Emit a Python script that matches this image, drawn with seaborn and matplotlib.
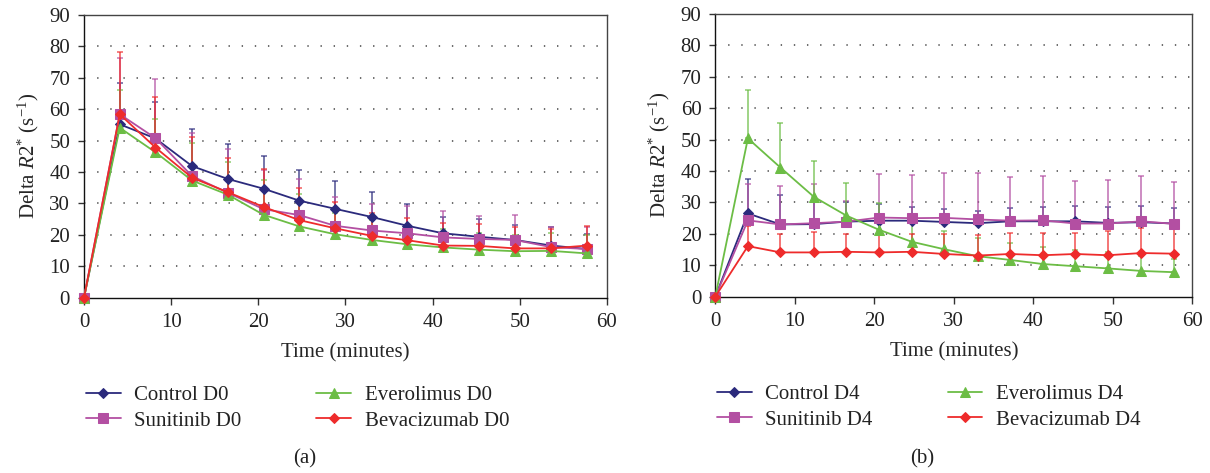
import numpy as np
import pandas as pd
import matplotlib
matplotlib.use("Agg")
import matplotlib.pyplot as plt
import seaborn as sns

# ---------------- data ----------------
time_min = [0, 4.1, 8.2, 12.4, 16.5, 20.6, 24.7, 28.8, 33.0, 37.1, 41.2, 45.3, 49.4, 53.6, 57.7]

# Panel (a): D0 means and upper error-bar tops
ctrl_d0 = [0, 55.2, 50.7, 41.9, 37.8, 34.7, 30.9, 28.3, 25.7, 22.9, 20.5, 19.4, 18.4, 16.6, 15.5]
suni_d0 = [0, 58.4, 50.8, 38.7, 33.4, 28.2, 26.3, 22.9, 21.4, 20.5, 19.2, 18.7, 18.4, 16.1, 15.5]
ever_d0 = [0, 54.1, 46.3, 37.3, 32.8, 26.4, 22.7, 20.2, 18.4, 17.0, 16.0, 15.3, 14.8, 14.9, 14.1]
beva_d0 = [0, 58.4, 47.8, 38.2, 33.6, 28.9, 24.7, 22.1, 19.7, 18.3, 16.6, 16.5, 15.7, 15.7, 16.6]

ctrl_d0_hi = [0, 68.2, 62.4, 53.6, 49.0, 45.0, 40.7, 37.2, 33.7, 29.8, 25.8, 25.0, 23.3, 22.6, 20.2]
suni_d0_hi = [0, 76.4, 69.6, 52.5, 47.4, 40.5, 37.7, 32.2, 29.7, 29.2, 27.6, 26.0, 26.3, 22.6, 22.4]
ever_d0_hi = [0, 66.0, 56.9, 49.2, 43.3, 37.5, 33.0, 26.9, 24.7, 22.5, 21.9, 20.7, 20.0, 20.7, 20.0]
beva_d0_hi = [0, 78.1, 63.8, 51.1, 44.4, 41.0, 35.0, 30.6, 27.1, 25.3, 23.7, 23.5, 22.6, 21.8, 22.8]

# Panel (b): D4 means and upper error-bar tops
ctrl_d4 = [0, 26.5, 23.0, 23.1, 23.9, 24.2, 24.2, 23.8, 23.4, 24.0, 24.0, 24.0, 23.5, 23.7, 23.3]
suni_d4 = [0, 24.3, 23.0, 23.4, 23.9, 25.2, 25.0, 25.1, 24.6, 24.2, 24.3, 23.3, 23.3, 24.0, 23.2]
ever_d4 = [0, 50.4, 41.1, 31.8, 25.8, 21.3, 17.5, 15.1, 12.9, 11.7, 10.4, 9.7, 9.0, 8.2, 7.8]
beva_d4 = [0, 16.1, 14.1, 14.1, 14.3, 14.1, 14.3, 13.6, 13.1, 13.6, 13.2, 13.6, 13.2, 13.9, 13.7]

ctrl_d4_hi = [0, 37.4, 32.4, 30.3, 30.3, 29.5, 28.7, 27.9, 27.3, 28.2, 28.5, 29.0, 28.5, 28.9, 28.2]
suni_d4_hi = [0, 35.9, 35.3, 35.9, 30.5, 39.1, 38.6, 39.3, 39.3, 38.2, 38.5, 36.8, 37.2, 38.5, 36.6]
ever_d4_hi = [0, 65.8, 55.2, 43.3, 36.1, 29.9, 23.9, 21.0, 18.6, 17.2, 15.9, 14.9, 14.3, 13.0, 12.0]
beva_d4_hi = [0, 22.5, 20.1, 20.6, 20.1, 20.1, 20.1, 20.0, 19.6, 20.4, 20.2, 20.4, 20.9, 21.8, 23.0]

groups = ["Control", "Sunitinib", "Everolimus", "Bevacizumab"]
x_ticks = [0, 10, 20, 30, 40, 50, 60]
y_ticks = [0, 10, 20, 30, 40, 50, 60, 70, 80, 90]

# ---------------- style ----------------
sns.set_theme(style="white")
plt.rcParams["font.family"] = ["Liberation Serif", "DejaVu Serif"]
plt.rcParams["mathtext.fontset"] = "custom"
plt.rcParams["mathtext.rm"] = "Liberation Serif"
plt.rcParams["mathtext.it"] = "Liberation Serif:italic"

colors = {"Control": "#2b2a7c", "Sunitinib": "#b34fa2",
          "Everolimus": "#6cbd45", "Bevacizumab": "#ee2b2b"}
markers = {"Control": "D", "Sunitinib": "s", "Everolimus": "^", "Bevacizumab": "D"}
msizes = {"Control": 5, "Sunitinib": 7.5, "Everolimus": 7.5, "Bevacizumab": 5.5}

FS = 15

fig = plt.figure(figsize=(12.1, 4.73), dpi=100)
W, H = 1210, 473
ax_a = fig.add_axes([84 / W, 1 - 297.7 / H, 523 / W, 282.7 / H])
ax_b = fig.add_axes([715.3 / W, 1 - 296.7 / H, 477 / W, 282.7 / H])

panels = [
    (ax_a, "D0", [ctrl_d0, suni_d0, ever_d0, beva_d0],
     [ctrl_d0_hi, suni_d0_hi, ever_d0_hi, beva_d0_hi], "(a)", 305),
    (ax_b, "D4", [ctrl_d4, suni_d4, ever_d4, beva_d4],
     [ctrl_d4_hi, suni_d4_hi, ever_d4_hi, beva_d4_hi], "(b)", 922),
]

for ax, day, means, highs, tag, tag_x in panels:
    rows = []
    for g, m in zip(groups, means):
        for tt, v in zip(time_min, m):
            rows.append({"time": tt, "value": v, "group": f"{g} {day}"})
    df = pd.DataFrame(rows)

    for g, m, hi in zip(groups, means, highs):
        sub = df[df["group"] == f"{g} {day}"]
        m_arr = np.array(m)
        hi_arr = np.array(hi)
        up = hi_arr - m_arr
        ax.errorbar(time_min[1:], m_arr[1:], yerr=[np.zeros(len(m) - 1), up[1:]],
                    fmt="none", ecolor=colors[g], elinewidth=1.3, capsize=2.5,
                    capthick=1.2, alpha=0.7, zorder=2)
        sns.lineplot(data=sub, x="time", y="value", ax=ax, color=colors[g],
                     marker=markers[g], markersize=msizes[g], markeredgecolor=colors[g],
                     linewidth=1.3, label=f"{g} {day}", errorbar=None, zorder=3,
                     clip_on=False)

    ax.set_xlim(0, 60)
    ax.set_ylim(0, 90)
    ax.set_xticks(x_ticks)
    ax.set_yticks(y_ticks)
    ax.set_xticklabels([str(v) for v in x_ticks], fontsize=FS)
    ax.set_yticklabels([str(v) for v in y_ticks], fontsize=FS)
    ax.set_xlabel("Time (minutes)", fontsize=FS, labelpad=8)
    ax.set_ylabel(r"Delta $\mathit{R}2^{*}$ (s$^{-1}$)", fontsize=FS, labelpad=6)
    ax.tick_params(axis="both", which="major", direction="out", length=5,
                   width=1, color="#333333", pad=6, colors="#222222")
    ax.tick_params(axis="y", left=True, length=4)
    ax.tick_params(axis="x", bottom=True)
    for yv in y_ticks[1:-1]:
        ax.axhline(yv, color="#444444", linewidth=1.1, linestyle=(0, (0.9, 7.7)),
                   zorder=0)
    for side in ["left", "bottom"]:
        ax.spines[side].set_color("#111111")
        ax.spines[side].set_linewidth(1.0)
    for side in ["top", "right"]:
        ax.spines[side].set_color("#444444")
        ax.spines[side].set_linewidth(1.0)
        ax.spines[side].set_visible(True)

    leg = ax.legend(ncol=2, loc="center left", bbox_to_anchor=(0.004, -0.39),
                    frameon=False, fontsize=FS, handlelength=1.66,
                    handletextpad=0.65, columnspacing=3.6, labelspacing=0.3,
                    borderpad=0, borderaxespad=0)
    for t in leg.get_texts():
        t.set_color("#222222")

    fig.text(tag_x / W, 1 - 459 / H, tag, ha="center", va="center",
             fontsize=FS, color="#222222")

fig.savefig("out.png", dpi=100)
